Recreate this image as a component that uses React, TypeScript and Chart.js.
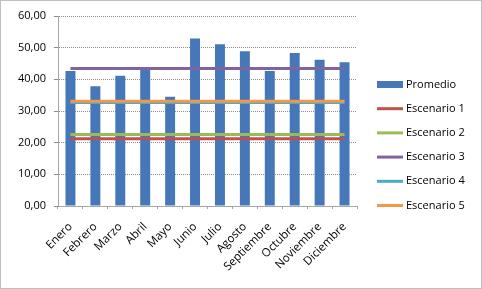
import React, { useEffect, useRef } from "react";
import { Chart, registerables } from "chart.js";

Chart.register(...registerables);

const months = ["Enero", "Febrero", "Marzo", "Abril", "Mayo", "Junio", "Julio", "Agosto", "Septiembre", "Octubre", "Noviembre", "Diciembre"];
const promedio = [42.6, 37.8, 41.1, 43.4, 34.5, 52.9, 51.1, 48.9, 42.6, 48.3, 46.2, 45.4];
const escenario1 = [21.2, 21.2, 21.2, 21.2, 21.2, 21.2, 21.2, 21.2, 21.2, 21.2, 21.2, 21.2];
const escenario2 = [22.6, 22.6, 22.6, 22.6, 22.6, 22.6, 22.6, 22.6, 22.6, 22.6, 22.6, 22.6];
const escenario3 = [43.4, 43.4, 43.4, 43.4, 43.4, 43.4, 43.4, 43.4, 43.4, 43.4, 43.4, 43.4];
const escenario4 = [32.7, 32.7, 32.7, 32.7, 32.7, 32.7, 32.7, 32.7, 32.7, 32.7, 32.7, 32.7];
const escenario5 = [33.1, 33.1, 33.1, 33.1, 33.1, 33.1, 33.1, 33.1, 33.1, 33.1, 33.1, 33.1];
const yTicks = [0, 10, 20, 30, 40, 50, 60];

const FONT = "Open Sans";

const frameAndLegend = {
  id: "frameAndLegend",
  beforeDraw(chart: any) {
    const ctx = chart.ctx;
    ctx.save();
    ctx.fillStyle = "#ffffff";
    ctx.fillRect(0, 0, chart.width, chart.height);
    ctx.restore();
  },
  afterDraw(chart: any) {
    const ctx = chart.ctx;
    ctx.save();
    ctx.setLineDash([1, 1]);
    ctx.strokeStyle = "#7f7f7f";
    ctx.lineWidth = 1;
    ctx.strokeRect(0.5, 0.5, chart.width - 1, chart.height - 1);
    ctx.setLineDash([]);
    const x0 = 377;
    const sw = 26;
    const y0 = 84.5;
    const step = 24.2;
    ctx.font = `11px "${FONT}"`;
    ctx.textBaseline = "middle";
    ctx.textAlign = "left";
    chart.data.datasets.forEach((ds: any, i: number) => {
      const y = y0 + i * step;
      if (ds.type === "bar") {
        ctx.fillStyle = ds.backgroundColor;
        ctx.fillRect(x0, y - 3.5, sw, 7);
      } else {
        ctx.strokeStyle = ds.borderColor;
        ctx.lineWidth = 3;
        ctx.beginPath();
        ctx.moveTo(x0, y);
        ctx.lineTo(x0 + sw, y);
        ctx.stroke();
      }
      ctx.fillStyle = "#000000";
      ctx.fillText(ds.label, x0 + sw + 3, y);
    });
    ctx.restore();
  },
};

export default function App() {
  const ref = useRef<HTMLCanvasElement | null>(null);
  useEffect(() => {
    document.body.style.margin = "0";
    const lineDs = (label: string, data: number[], color: string, order: number) => ({
      type: "line" as const,
      label,
      data,
      borderColor: color,
      backgroundColor: color,
      borderWidth: 3,
      pointRadius: 0,
      tension: 0,
      order,
    });
    const chart = new Chart(ref.current as HTMLCanvasElement, {
      type: "bar",
      data: {
        labels: months,
        datasets: [
          {
            type: "bar",
            label: "Promedio",
            data: promedio,
            backgroundColor: "#4677b8",
            borderColor: "#4677b8",
            borderWidth: 0,
            barPercentage: 0.5,
            categoryPercentage: 0.8,
            order: 10,
          } as any,
          lineDs("Escenario 1", escenario1, "#c0504d", 5),
          lineDs("Escenario 2", escenario2, "#9bbb59", 4),
          lineDs("Escenario 3", escenario3, "#8064a2", 3),
          lineDs("Escenario 4", escenario4, "#4bacc6", 2),
          lineDs("Escenario 5", escenario5, "#f79646", 1),
        ],
      },
      options: {
        responsive: false,
        animation: false,
        layout: { padding: { top: 16, right: 125, left: 0, bottom: 0 } },
        plugins: { legend: { display: false }, tooltip: { enabled: false } },
        scales: {
          x: {
            offset: true,
            grid: {
              display: true,
              offset: true,
              drawOnChartArea: false,
              drawTicks: true,
              tickLength: 3,
              color: "#a6a6a6",
            },
            border: { display: true, color: "#a6a6a6", width: 1 },
            ticks: {
              maxRotation: 45,
              minRotation: 45,
              autoSkip: false,
              padding: 11,
              color: "#000000",
              font: { family: FONT, size: 11.5 },
            },
            afterFit: (s: any) => {
              s.height = 83;
            },
          },
          y: {
            min: 0,
            max: 60,
            afterBuildTicks: (s: any) => {
              s.ticks = yTicks.map((v) => ({ value: v }));
            },
            grid: {
              color: "#8c8c8c",
              tickLength: 4,
              tickColor: "#8c8c8c",
            },
            border: { display: true, color: "#a6a6a6", width: 1, dash: [1, 1] },
            ticks: {
              padding: 8,
              color: "#000000",
              font: { family: FONT, size: 11 },
              callback: (v: any) => Number(v).toFixed(2).replace(".", ","),
            },
            afterFit: (s: any) => {
              s.width = 58;
            },
          },
        },
      },
      plugins: [frameAndLegend],
    });
    return () => chart.destroy();
  }, []);
  return <canvas ref={ref} width={482} height={289} style={{ display: "block" }} />;
}
